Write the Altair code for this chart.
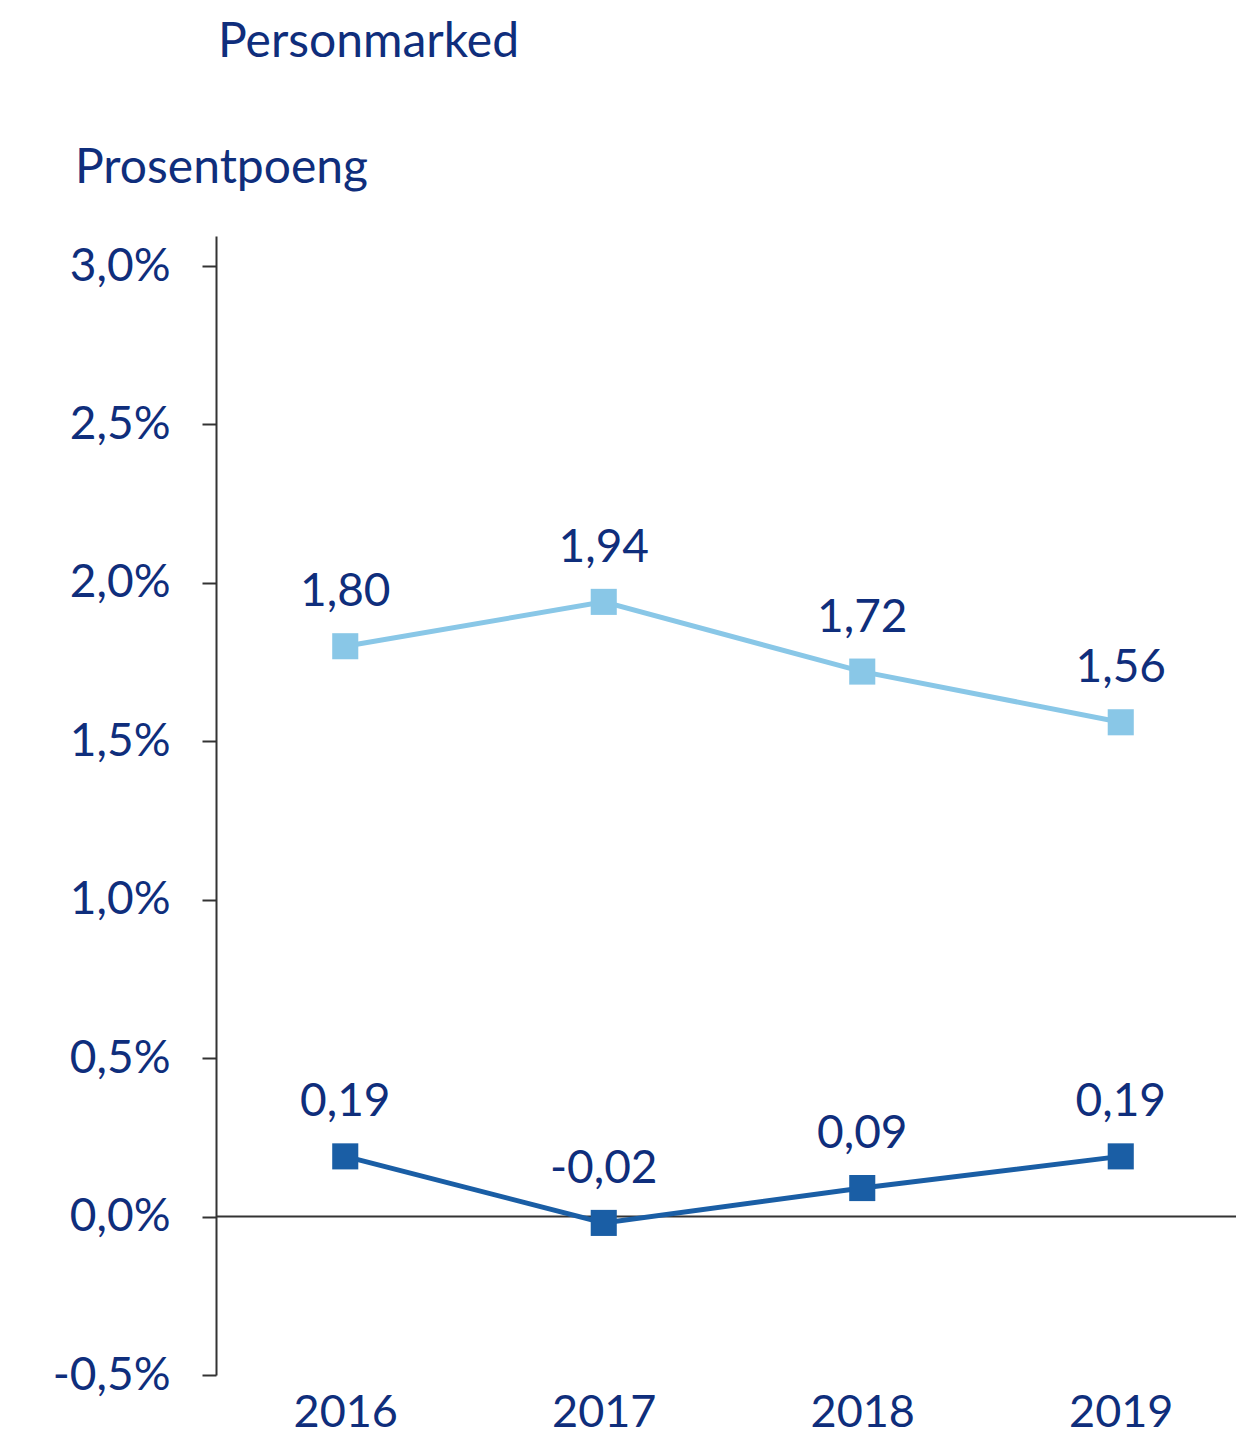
import altair as alt
import pandas as pd

years = ["2016", "2017", "2018", "2019"]
series_light = [1.80, 1.94, 1.72, 1.56]
series_dark = [0.19, -0.02, 0.09, 0.19]
y_ticks = [-0.5, 0.0, 0.5, 1.0, 1.5, 2.0, 2.5, 3.0]

NAVY = "#0f2e7c"
LIGHT = "#89c7e7"
DARK = "#1a5ea5"
AXIS = "#333333"
FONT = "Lato"
FS = 46
TFS = 48

rows = []
for y, v in zip(years, series_light):
    rows.append({"year": y, "value": v, "series": "light"})
for y, v in zip(years, series_dark):
    rows.append({"year": y, "value": v, "series": "dark"})
df = pd.DataFrame(rows)

xscale = alt.Scale(range=[0, 1034], padding=0.5)

xenc = alt.X("year:O", scale=xscale,
             axis=alt.Axis(domain=False, ticks=False, labelAngle=0,
                           labelFontSize=45, labelFont=FONT, labelColor=NAVY,
                           labelPadding=15, title=None))
yenc = alt.Y("value:Q",
             scale=alt.Scale(domain=[-0.5, 3.0947], nice=False, zero=False),
             axis=alt.Axis(values=y_ticks, grid=False, domainColor=AXIS, domainWidth=2,
                           tickColor=AXIS, tickWidth=2, tickSize=14,
                           labelFontSize=FS, labelFont=FONT, labelColor=NAVY,
                           labelPadding=32, title=None,
                           labelExpr="replace(replace(format(datum.value, '.1f'), '\u2212', '-'), '.', ',') + '%'"))

base = alt.Chart(df)

color_scale = alt.Scale(domain=["light", "dark"], range=[LIGHT, DARK])

lines = base.mark_line(strokeWidth=5).encode(
    x=xenc, y=yenc,
    color=alt.Color("series:N", scale=color_scale, legend=None),
    detail="series:N",
)
points = base.mark_point(shape="square", filled=True, size=680, opacity=1).encode(
    x="year:O", y="value:Q",
    color=alt.Color("series:N", scale=color_scale, legend=None),
)
labels = base.transform_calculate(
    lab="replace(replace(format(datum.value, '.2f'), '\u2212', '-'), '.', ',')"
).mark_text(font=FONT, fontSize=FS, color=NAVY, baseline="bottom", dy=-30, align="center").encode(
    x="year:O", y="value:Q", text="lab:N"
)
zero = alt.Chart(pd.DataFrame({"v": [0.0]})).mark_rule(color=AXIS, strokeWidth=2).encode(
    y="v:Q", x=alt.value(0), x2=alt.value(1034)
)
title1 = alt.Chart(pd.DataFrame({"t": ["Personmarked"]})).mark_text(
    font=FONT, fontSize=TFS, color=NAVY, align="left", baseline="alphabetic"
).encode(text="t:N", x=alt.value(2), y=alt.value(-179))
title2 = alt.Chart(pd.DataFrame({"t": ["Prosentpoeng"]})).mark_text(
    font=FONT, fontSize=TFS, color=NAVY, align="left", baseline="alphabetic"
).encode(text="t:N", x=alt.value(-141), y=alt.value(-53))

chart = alt.layer(zero, lines, points, labels, title1, title2).properties(
    width=1020, height=1139,
    autosize=alt.AutoSizeParams(type="none"),
    padding={"left": 208, "top": 228, "right": 0, "bottom": 66},
).configure_view(stroke=None)

chart.save("out.html", embed_options={"renderer": "svg", "actions": False})
